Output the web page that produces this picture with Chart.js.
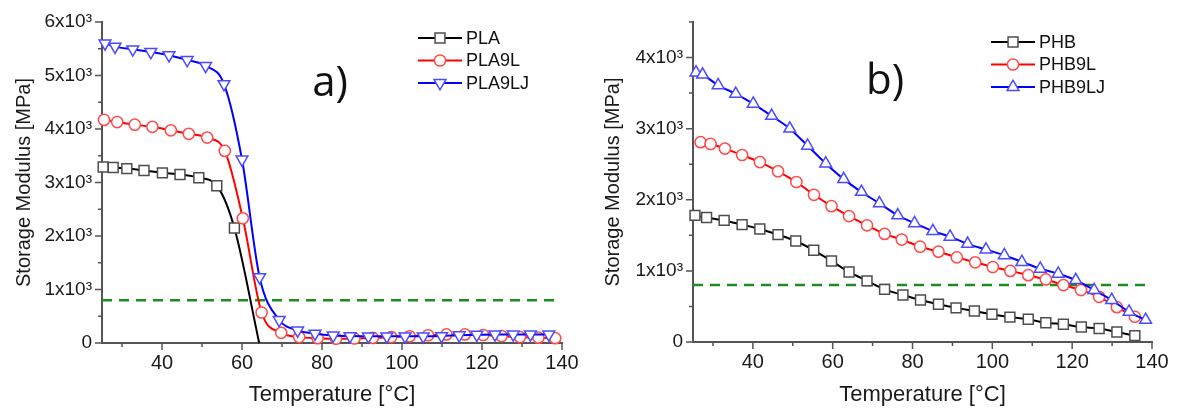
<!DOCTYPE html>
<html>
<head>
<meta charset="utf-8">
<script src="https://cdn.jsdelivr.net/npm/chart.js@4.4.1/dist/chart.umd.min.js"></script>
<style>
    html, body { margin: 0; padding: 0; background: #fff; }
    #wrap { position: relative; width: 1178px; height: 412px; }
    .panel { position: absolute; top: 0; width: 589px; height: 412px; }
</style>
</head>
<body>
<div id="wrap">
    <div class="panel" style="left:0"><canvas id="chartA"></canvas></div>
    <div class="panel" style="left:589px"><canvas id="chartB"></canvas></div>
</div>
<script>
// panel a) PLA blends, storage modulus in MPa vs temperature in °C
const plaT = [25.3, 27.8, 31.2, 35.5, 40.1, 44.5, 49.2, 53.7, 58.1, 64.3];
const plaE = [3290, 3280, 3260, 3225, 3180, 3150, 3090, 2940, 2150, 0];
const pla9lT = [25.5, 28.8, 33.2, 37.6, 42.2, 46.7, 51.3, 55.7, 60.2, 64.9, 69.8, 74.3, 78.9, 83.5, 88.1, 92.7, 97.3, 101.9, 106.5, 111.1, 115.7, 120.3, 124.9, 129.5, 134.1, 138.3];
const pla9lE = [4170, 4130, 4080, 4040, 3975, 3910, 3840, 3590, 2330, 570, 190, 110, 90, 80, 85, 95, 110, 125, 145, 160, 160, 150, 130, 110, 100, 90];
const pla9ljT = [25.75, 28.25, 32.7, 37.2, 41.75, 46.3, 50.9, 55.5, 60.0, 64.4, 69.3, 73.9, 78.25, 82.8, 87, 91.6, 96.2, 100.75, 105.3, 109.9, 114.3, 118.7, 123.25, 127.8, 132.1, 136.7];
const pla9ljE = [5600, 5540, 5490, 5440, 5380, 5290, 5180, 4840, 3430, 1230, 430, 235, 175, 140, 130, 125, 125, 125, 125, 130, 145, 155, 160, 160, 160, 160];

// panel b) PHB blends
const phbT = [25.5, 28.4, 32.8, 37.3, 41.75, 46.3, 50.75, 55.25, 59.7, 64.1, 68.6, 73, 77.6, 82, 86.5, 90.9, 95.5, 99.9, 104.4, 109, 113.4, 117.8, 122.3, 126.75, 131.2, 135.7];
const phbE = [1780, 1750, 1710, 1650, 1590, 1510, 1420, 1290, 1140, 985, 860, 740, 660, 590, 530, 480, 435, 390, 350, 320, 270, 250, 210, 190, 140, 90];
const phb9lT = [26.9, 29.4, 33, 37.3, 41.75, 46.3, 50.9, 55.3, 59.7, 64.1, 68.6, 73, 77.3, 81.9, 86.5, 91.1, 95.7, 100.1, 104.5, 109, 113.4, 117.8, 122.2, 126.75, 131.2, 135.7];
const phb9lE = [2810, 2785, 2720, 2630, 2530, 2400, 2250, 2070, 1910, 1770, 1640, 1520, 1440, 1340, 1270, 1190, 1120, 1055, 1000, 940, 880, 800, 730, 635, 490, 355];
const phb9ljT = [25.75, 27.4, 31.3, 35.7, 40.1, 44.7, 49.25, 53.7, 58.25, 62.75, 67.2, 71.7, 76.3, 80.5, 85.1, 89.4, 93.8, 98.4, 103, 107.4, 112, 116.5, 120.9, 125.5, 129.9, 134.25, 138.4];
const phb9ljE = [3790, 3760, 3610, 3490, 3350, 3180, 3000, 2760, 2510, 2290, 2110, 1950, 1780, 1670, 1560, 1480, 1380, 1300, 1220, 1125, 1030, 960, 870, 730, 590, 425, 310];

// 800 MPa reference line
const limitTA = [25, 139];
const limitTB = [25, 138.5];
const limitE = [800, 800];

// axes
const xTicks = [40, 60, 80, 100, 120, 140];
const xMinor = [30, 50, 70, 90, 110, 130];
const yTicksA = [0, 1000, 2000, 3000, 4000, 5000, 6000];
const yLabelsA = ['0', '1x10³', '2x10³', '3x10³', '4x10³', '5x10³', '6x10³'];
const yMinorA = [500, 1500, 2500, 3500, 4500, 5500];
const yTicksB = [0, 1000, 2000, 3000, 4000];
const yLabelsB = ['0', '1x10³', '2x10³', '3x10³', '4x10³'];
const yMinorB = [500, 1500, 2500, 3500, 4500];

Chart.defaults.font.family = '"Liberation Sans", Arial, sans-serif';
Chart.defaults.color = '#1a1a1a';

const AXIS = '#555';

// outward major/minor tick marks
const axisTicks = {
    id: 'axisTicks',
    afterDraw(chart, args, o) {
        const { ctx, chartArea: a, scales: { x, y } } = chart;
        ctx.save();
        ctx.strokeStyle = AXIS;
        ctx.lineWidth = 1.5;
        ctx.beginPath();
        x.ticks.forEach(t => {
            const px = x.getPixelForValue(t.value);
            ctx.moveTo(px, a.bottom); ctx.lineTo(px, a.bottom + 7);
        });
        o.xMinor.forEach(v => {
            const px = x.getPixelForValue(v);
            ctx.moveTo(px, a.bottom); ctx.lineTo(px, a.bottom + 4);
        });
        y.ticks.forEach(t => {
            const py = y.getPixelForValue(t.value);
            ctx.moveTo(a.left, py); ctx.lineTo(a.left - 7, py);
        });
        o.yMinor.forEach(v => {
            const py = y.getPixelForValue(v);
            ctx.moveTo(a.left, py); ctx.lineTo(a.left - 4, py);
        });
        ctx.stroke();
        ctx.restore();
    }
};

// panel tag and in-plot legend
const decor = {
    id: 'decor',
    afterDraw(chart, args, o) {
        const ctx = chart.ctx;
        ctx.save();
        ctx.fillStyle = '#111';
        ctx.font = '42px "Open Sans", sans-serif';
        ctx.textAlign = 'center';
        ctx.textBaseline = 'middle';
        ctx.fillText(o.tag, o.tagX, o.tagY);

        ctx.font = '18px "Liberation Sans", Arial, sans-serif';
        ctx.textAlign = 'left';
        chart.data.datasets.filter(d => d.legend !== false).forEach((d, i) => {
            const y = o.legY + i * o.legGap;
            ctx.strokeStyle = d.borderColor;
            ctx.lineWidth = 2;
            ctx.beginPath();
            ctx.moveTo(o.legX, y); ctx.lineTo(o.legX + 44, y);
            ctx.stroke();
            ctx.fillStyle = '#fff';
            ctx.strokeStyle = d.pointBorderColor;
            ctx.lineWidth = 1.5;
            Chart.helpers.drawPoint(ctx, {
                pointStyle: d.pointStyle, rotation: d.pointRotation,
                radius: d.markerSize, borderWidth: 1.5
            }, o.legX + 22, y);
            ctx.fillStyle = '#111';
            ctx.fillText(d.label, o.legX + 48, y + 1);
        });
        ctx.restore();
    }
};

function series(label, T, E, line, marker, style, rot, size, order) {
    return {
        label: label,
        data: T.map((t, i) => ({ x: t, y: E[i] })),
        borderColor: line,
        borderWidth: 2,
        pointStyle: style,
        pointRotation: rot,
        markerSize: size,
        pointRadius: ctx => (ctx.raw && ctx.raw.y === 0 ? 0 : size),
        pointBackgroundColor: '#fff',
        pointBorderColor: marker,
        pointBorderWidth: 1.5,
        cubicInterpolationMode: 'monotone',
        order: order,
        clip: false
    };
}

function limitLine(T) {
    return {
        label: 'limit',
        legend: false,
        data: T.map((t, i) => ({ x: t, y: limitE[i] })),
        borderColor: '#1e8c1e',
        borderWidth: 2.5,
        borderDash: [10, 7],
        pointRadius: 0,
        order: 5
    };
}

function options(yMax, yTicks, yLabels, yMinor, padRight, xHeight, yWidth, deco) {
    return {
        responsive: true,
        maintainAspectRatio: false,
        animation: false,
        layout: { padding: { left: 0, right: padRight, top: 22, bottom: 0 } },
        plugins: {
            legend: { display: false },
            tooltip: { enabled: false },
            axisTicks: { xMinor: xMinor, yMinor: yMinor },
            decor: deco
        },
        scales: {
            x: {
                type: 'linear',
                min: 25,
                max: 140,
                afterBuildTicks: s => { s.ticks = xTicks.map(v => ({ value: v })); },
                afterFit: s => { s.height = xHeight; },
                ticks: { font: { size: 20 }, color: '#1a1a1a', padding: 8, maxRotation: 0, autoSkip: false },
                grid: { display: false, drawTicks: false },
                border: { color: AXIS, width: 2 },
                title: {
                    display: true, text: 'Temperature [°C]', color: '#1a1a1a',
                    font: { size: 22 }, padding: { top: 0, bottom: 4 }
                }
            },
            y: {
                type: 'linear',
                min: 0,
                max: yMax,
                afterBuildTicks: s => { s.ticks = yTicks.map(v => ({ value: v })); },
                afterFit: s => { s.width = yWidth; },
                ticks: {
                    font: { size: 19 }, color: '#1a1a1a', padding: 10,
                    callback: (v, i) => yLabels[i]
                },
                grid: { display: false, drawTicks: false },
                border: { color: AXIS, width: 2 },
                title: {
                    display: true, text: 'Storage Modulus [MPa]', color: '#1a1a1a',
                    font: { size: 20 }, padding: { top: 12, bottom: 0 }
                }
            }
        }
    };
}

new Chart(document.getElementById('chartA'), {
    type: 'line',
    data: {
        datasets: [
            series('PLA', plaT, plaE, '#000', '#4d4d4d', 'rect', 0, 7, 3),
            series('PLA9L', pla9lT, pla9lE, '#ff0000', '#ff4a4a', 'circle', 0, 5.6, 2),
            series('PLA9LJ', pla9ljT, pla9ljE, '#0000ff', '#4a4aff', 'triangle', 180, 6.8, 1),
            limitLine(limitTA)
        ]
    },
    options: options(6000, yTicksA, yLabelsA, yMinorA, 27, 69, 102,
        { tag: 'a)', tagX: 330, tagY: 84, legX: 418, legY: 38, legGap: 22.5 }),
    plugins: [axisTicks, decor]
});

new Chart(document.getElementById('chartB'), {
    type: 'line',
    data: {
        datasets: [
            series('PHB', phbT, phbE, '#000', '#4d4d4d', 'rect', 0, 7, 3),
            series('PHB9L', phb9lT, phb9lE, '#ff0000', '#ff4a4a', 'circle', 0, 5.6, 2),
            series('PHB9LJ', phb9ljT, phb9ljE, '#0000ff', '#4a4aff', 'triangle', 0, 6.8, 1),
            limitLine(limitTB)
        ]
    },
    options: options(4500, yTicksB, yLabelsB, yMinorB, 26, 70, 104,
        { tag: 'b)', tagX: 296, tagY: 82, legX: 402, legY: 42, legGap: 22.5 }),
    plugins: [axisTicks, decor]
});
</script>
</body>
</html>
